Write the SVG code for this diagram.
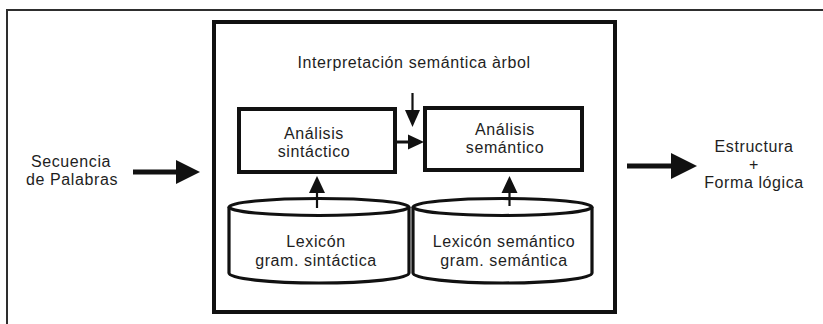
<svg xmlns="http://www.w3.org/2000/svg" width="823" height="324" viewBox="0 0 823 324">
<defs>
<style>
.t{font-family:"Liberation Sans",Arial,sans-serif;font-size:16px;letter-spacing:0.6px;fill:#1e1e1e;text-anchor:middle}
.box{fill:#fff;stroke:#111;stroke-width:4}
.cyl{fill:#fff;stroke:#111;stroke-width:3.2}
.ln{stroke:#111;fill:none}
.hd{fill:#111}
</style>
</defs>
<rect width="823" height="324" fill="#fff"/>
<g id="frame">
<path d="M7,324 V10 H823" fill="none" stroke="#2e2e2e" stroke-width="2"/>
</g>
<g id="main">
<rect x="214" y="22" width="401" height="290" class="box"/>
<text class="t" x="414" y="68">Interpretación semántica àrbol</text>
</g>
<g id="analisis-sintactico">
<rect x="239" y="109" width="156" height="63" class="box"/>
<text class="t" x="314" y="139">Análisis</text>
<text class="t" x="314" y="157">sintáctico</text>
</g>
<g id="analisis-semantico">
<rect x="425" y="108" width="157" height="62" class="box"/>
<text class="t" x="505" y="135">Análisis</text>
<text class="t" x="505" y="153">semántico</text>
</g>
<g id="lexicon-sintactico">
<path class="cyl" d="M229,207 A90,8.5 0 0 1 409,207 V273 A90,10 0 0 1 229,273 Z"/>
<path class="cyl" d="M229,207 A90,8.5 0 0 0 409,207"/>
<text class="t" x="316" y="247">Lexicón</text>
<text class="t" x="316" y="266">gram. sintáctica</text>
</g>
<g id="lexicon-semantico">
<path class="cyl" d="M413,207 A89.5,8.5 0 0 1 592,207 V273 A89.5,10 0 0 1 413,273 Z"/>
<path class="cyl" d="M413,207 A89.5,8.5 0 0 0 592,207"/>
<text class="t" x="504" y="247">Lexicón semántico</text>
<text class="t" x="504" y="266">gram. semántica</text>
</g>
<g id="secuencia">
<text class="t" x="71" y="167">Secuencia</text>
<text class="t" x="72" y="185">de Palabras</text>
</g>
<g id="estructura">
<text class="t" x="754" y="152">Estructura</text>
<text class="t" x="754" y="170">+</text>
<text class="t" x="754" y="188">Forma lógica</text>
</g>
<g id="connectors">
<line class="ln" x1="133" y1="172" x2="178" y2="172" stroke-width="5"/>
<polygon class="hd" points="176,160 200,172 176,184"/>
<line class="ln" x1="627" y1="166" x2="673" y2="166" stroke-width="5"/>
<polygon class="hd" points="671,153 697,166 671,179"/>
<line class="ln" x1="412.5" y1="93" x2="412.5" y2="112" stroke-width="2.2"/>
<polygon class="hd" points="405,110 420,110 412.5,127"/>
<line class="ln" x1="395" y1="142" x2="410" y2="142" stroke-width="3"/>
<polygon class="hd" points="408,134.5 424,142 408,149.5"/>
<line class="ln" x1="317" y1="208" x2="317" y2="191" stroke-width="2.2"/>
<polygon class="hd" points="309,193 325,193 317,176"/>
<line class="ln" x1="509.5" y1="206" x2="509.5" y2="191" stroke-width="2.2"/>
<polygon class="hd" points="501.5,193 517.5,193 509.5,176"/>
</g>
</svg>
